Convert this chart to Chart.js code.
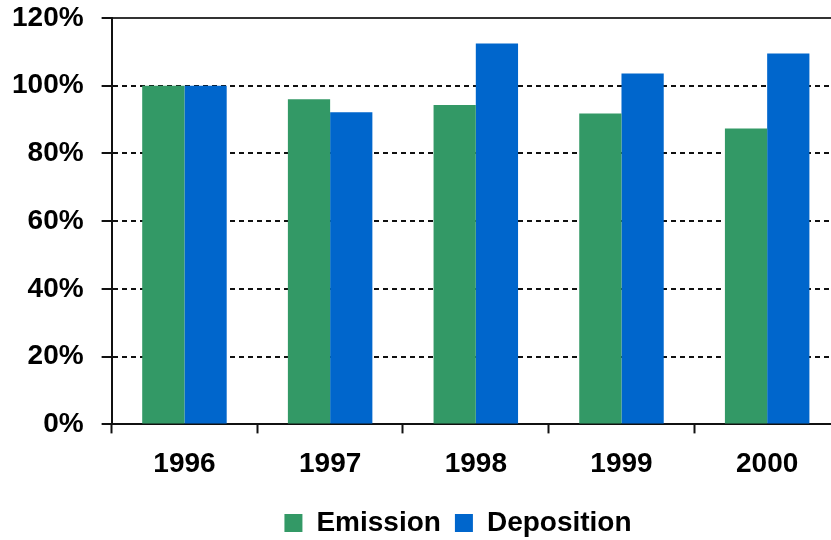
<!DOCTYPE html>
<html>
<head>
<meta charset="utf-8">
<script src="https://cdn.jsdelivr.net/npm/chart.js@4/dist/chart.umd.min.js"></script>
<style>
  html, body { margin: 0; padding: 0; background: #fff; overflow: hidden; }
  #wrap { width: 831px; height: 540px; overflow: hidden; }
</style>
</head>
<body>
<div id="wrap">
  <canvas id="myChart" width="840" height="540"></canvas>
</div>
<script>
// 연도별 배출량 / 침적량 (1996년 = 100%)
const years = ["1996", "1997", "1998", "1999", "2000"];
const emission = [100, 96, 94.3, 91.8, 87.4];
const deposition = [100, 92.2, 112.5, 103.6, 109.5];
const yTicks = [0, 20, 40, 60, 80, 100, 120];

const FONT = { family: "'Liberation Sans', Arial, sans-serif", size: 28, weight: "bold" };

// 범례를 가운데에서 조금 옮기기
const legendShift = {
	id: "legendShift",
	afterLayout(chart) {
		const lg = chart.legend;
		lg.left += 41;
		lg.right += 41;
	}
};

var ctx = document.getElementById("myChart");

var config = {
	type: "bar",
	data: {
		labels: years,
		datasets: [{
			label: "Emission",
			data: emission,
			backgroundColor: "#339966",
			borderWidth: 0
		}, {
			label: "Deposition",
			data: deposition,
			backgroundColor: "#0066CC",
			borderWidth: 0
		}]
	},
	options: {
		responsive: false,
		animation: false,
		layout: { padding: { left: -6, top: 18, right: 0, bottom: -7 } },
		plugins: {
			tooltip: { enabled: false },
			legend: {
				position: "bottom",
				labels: {
					color: "#000",
					font: FONT,
					boxWidth: 18,
					boxHeight: 18,
					padding: 14
				}
			}
		},
		datasets: {
			bar: { categoryPercentage: 0.58, barPercentage: 1 }
		},
		scales: {
			x: {
				grid: {
					offset: true,
					drawOnChartArea: false,
					tickLength: 9,
					tickWidth: 2,
					tickColor: "#111"
				},
				border: { color: "#111", width: 2 },
				ticks: { color: "#000", font: FONT, padding: 14 }
			},
			y: {
				min: 0,
				max: 120,
				afterBuildTicks(axis) {
					axis.ticks = yTicks.map(v => ({ value: v }));
				},
				// 맨 위 라벨 때문에 생기는 여백 없애기
				afterFit(axis) {
					axis.paddingTop = 0;
				},
				grid: {
					color: c => c.tick && c.tick.value === 120 ? "#333" : "#111",
					lineWidth: 2,
					tickLength: 10,
					tickWidth: 2,
					tickColor: "#111"
				},
				border: {
					color: "#111",
					width: 2,
					dash: c => c.tick && (c.tick.value === 120 || c.tick.value === 0) ? [] : [5, 4]
				},
				ticks: {
					color: "#000",
					font: FONT,
					padding: 18,
					callback: v => v + "%"
				}
			}
		}
	},
	plugins: [legendShift]
};

// 차트 생성
var myChart = new Chart(ctx, config);
</script>
</body>
</html>
